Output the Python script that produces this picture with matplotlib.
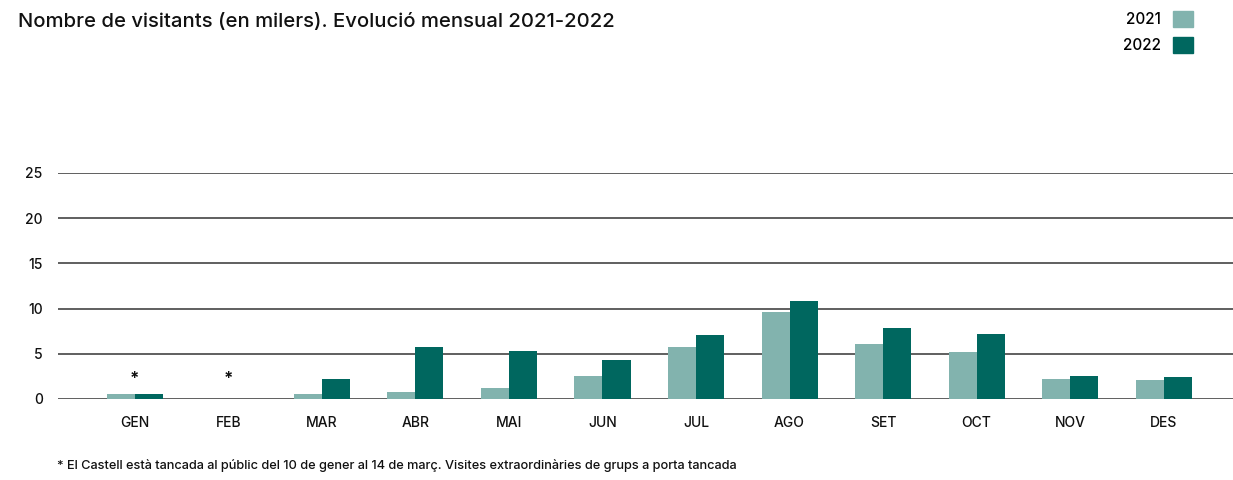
import matplotlib
matplotlib.use("Agg")
import matplotlib.pyplot as plt
import matplotlib.patches as mpatches
import numpy as np

plt.rcParams['font.family'] = ['Inter', 'DejaVu Sans']

# dades (milers de visitants)
mesos = ["GEN", "FEB", "MAR", "ABR", "MAI", "JUN", "JUL", "AGO", "SET", "OCT", "NOV", "DES"]
v2021 = [0.55, 0.0, 0.55, 0.8, 1.2, 2.5, 5.8, 9.6, 6.1, 5.2, 2.2, 2.1]
v2022 = [0.6, 0.0, 2.2, 5.7, 5.3, 4.3, 7.1, 10.8, 7.9, 7.2, 2.5, 2.4]
anys = ["2021", "2022"]
asterisc = ["GEN", "FEB"]
yticks = [0, 5, 10, 15, 20, 25]

c21 = "#82b3ae"
c22 = "#00675f"

fig = plt.figure(figsize=(12.33, 4.8), dpi=100)
ax = fig.add_axes([58/1233, 1-399/480, 1-58/1233, (399-173)/480])

X = np.arange(len(mesos))
w = 0.3
ax.bar(X - w/2, v2021, w, color=c21, zorder=3)
ax.bar(X + w/2, v2022, w, color=c22, zorder=3)

for m in asterisc:
    i = mesos.index(m)
    ax.text(i, 2.3, "*", ha="center", va="center", fontsize=12, fontweight="bold",
            color="#111", zorder=4)

ax.set_xlim(-0.82, 11.74)
ax.set_ylim(0, 25)
ax.set_yticks(yticks)
ax.set_xticks(X, mesos)
ax.grid(axis="y", color="#444444", lw=1.2, zorder=1)
ax.grid(axis="x", visible=False)
for s in ax.spines.values():
    s.set_visible(False)
ax.tick_params(axis="both", length=0, labelsize=10, colors="#111")
ax.tick_params(axis="y", pad=11)
ax.tick_params(axis="x", pad=12)
for lab in ax.get_xticklabels() + ax.get_yticklabels():
    lab.set_fontweight("medium")

fig.text(18/1233, 1-22/480, "Nombre de visitants (en milers). Evolució mensual 2021-2022",
         fontsize=14.6, fontweight="medium", va="center", ha="left", color="#111")

handles = [mpatches.Patch(color=c21), mpatches.Patch(color=c22)]
fig.legend(handles, anys, loc="upper right", bbox_to_anchor=(1207/1233, 1+3/480),
           frameon=False, markerfirst=False, handlelength=1.3, handleheight=1.3,
           handletextpad=0.8, labelspacing=0.6,
           prop={"size": 11, "weight": "medium"})

fig.text(57/1233, 1-466/480,
         "* El Castell està tancada al públic del 10 de gener al 14 de març. Visites extraordinàries de grups a porta tancada",
         fontsize=9.2, fontweight="medium", va="center", ha="left", color="#111")

plt.savefig("out.png", dpi=100)
